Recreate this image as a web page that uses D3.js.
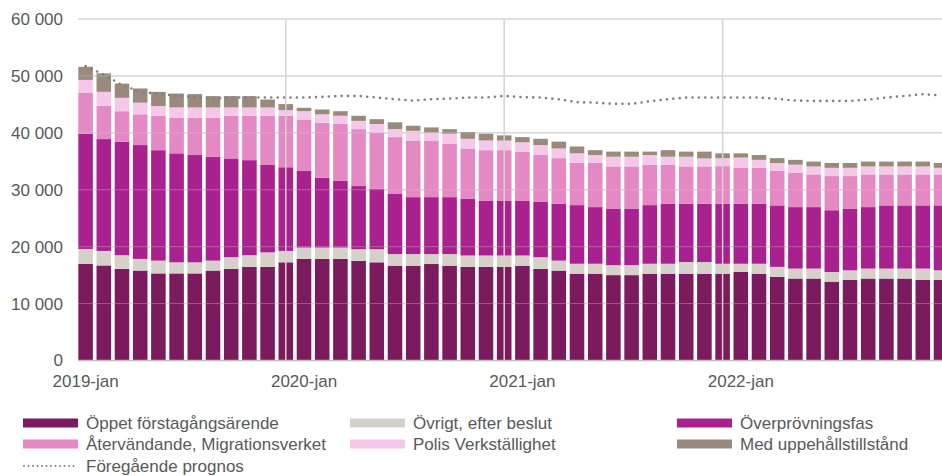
<!DOCTYPE html>
<html>
<head>
<meta charset="utf-8">
<script src="https://cdn.jsdelivr.net/npm/d3@7"></script>
<style>
  body { margin: 0; background: #fff; }
  text { font-family: Arial, "Liberation Sans", sans-serif; fill: #595959; }
</style>
</head>
<body>
<div id="chart"></div>
<script>
// monthly values, 2019-jan .. 2022-dec
const years = [2019, 2020, 2021, 2022];
const monthNames = ["jan","feb","mar","apr","maj","jun","jul","aug","sep","okt","nov","dec"];
const months = [];
years.forEach(yr => monthNames.forEach(m => months.push(yr + "-" + m)));

const tickLabels = ["2019-jan", "2020-jan", "2021-jan", "2022-jan"];
const yTicks = [0, 10000, 20000, 30000, 40000, 50000, 60000];

const oppet = [17000,16700,16100,15800,15300,15300,15300,15800,16100,16450,16450,17250,
  17850,17850,17850,17500,17250,16650,16650,16950,16650,16450,16450,16450,
  16650,16100,15800,15250,15250,15000,15000,15250,15250,15250,15250,15250,
  15550,15250,14700,14400,14400,13850,14150,14400,14400,14400,14150,14150];
const ovrigt = [2600,2550,2400,2050,2250,1950,1950,1750,2050,2050,2550,2000,
  2000,2000,2000,2050,2300,2050,2050,1750,2050,2000,2000,2000,
  1800,2050,1750,1750,1750,1750,1750,1750,1750,2050,2050,1750,
  1450,1750,1750,1750,1750,1700,1700,1750,1750,1750,2000,1700];
const overprovning = [20200,19650,19950,20000,19400,19150,18850,18250,17350,16700,15350,14700,
  13450,12250,11700,11100,10600,10550,10000,10000,10000,10000,9650,9650,
  9650,9700,10000,10300,9950,9950,9950,10300,10550,10250,10250,10550,
  10550,10550,10800,10800,10800,10850,10850,10800,11100,11100,11100,11400];
const atervandande = [7200,5850,5350,5400,6050,6250,6550,6850,7500,7800,8650,9050,
  9050,9650,10000,10000,9900,10000,9950,9950,9400,8800,8850,8850,
  8600,8250,8000,7450,7800,7400,7400,7100,6850,6550,6550,6600,
  6350,6300,6050,6050,5750,6000,5700,5750,5450,5450,5450,5450];
const polis = [2300,2450,2350,2050,1700,1800,1800,1800,1450,1450,1450,1000,
  1450,1500,1450,1450,1500,1400,1700,1400,1750,1700,1700,1700,
  1650,1750,1700,1650,1350,1700,1700,1700,1400,1700,1400,1400,
  1750,1400,1400,1400,1400,1450,1450,1400,1400,1400,1400,1150];
const uppehall = [2300,3250,2500,2500,2500,2450,2350,2000,2000,2000,1400,1050,
  600,850,800,900,850,1200,900,900,800,1200,1200,900,
  900,1100,1200,1200,850,900,900,600,1150,900,1200,850,
  750,850,850,850,850,850,850,850,850,850,850,850];
const foregaende = [51750,50200,48400,47200,46850,46500,46250,46000,46200,46200,46200,46200,
  46200,46320,46490,46490,46200,45900,45670,45900,46020,46200,46200,46490,
  46260,46200,45900,45370,45320,45090,45090,45550,45900,46200,46200,46200,
  46200,46200,45960,45670,45610,45610,45610,45850,46200,46490,46780,46600];

const seriesNames = ["Öppet förstagångsärende", "Övrigt, efter beslut", "Överprövningsfas",
  "Återvändande, Migrationsverket", "Polis Verkställighet", "Med uppehållstillstånd"];
const seriesData = [oppet, ovrigt, overprovning, atervandande, polis, uppehall];
const colors = ["#7b1a5c", "#d6d0ca", "#a8218e", "#e589c4", "#f5c8ea", "#9a8a7c"];
const lineName = "Föregående prognos";

const width = 942, height = 476;
const margin = {top: 19, right: 0, bottom: 115, left: 78};

const svg = d3.select("#chart").append("svg")
  .attr("width", width).attr("height", height)
  .attr("viewBox", [0, 0, width, height]);

// rows for the stack
const table = months.map((m, i) => {
  const row = {month: m};
  seriesNames.forEach((s, k) => row[s] = seriesData[k][i]);
  return row;
});
const stacked = d3.stack().keys(seriesNames)(table);

const x = d3.scaleBand().domain(months)
  .range([76.5, 76.5 + 18.2 * months.length])
  .paddingInner(0.2).paddingOuter(0.1);
const y = d3.scaleLinear().domain([0, 60000]).range([height - margin.bottom - 0.5, margin.top]);

// horizontal grid under the bars
const grid = svg.append("g");
grid.selectAll("line").data(yTicks.slice(1)).enter().append("line")
  .attr("x1", margin.left).attr("x2", width)
  .attr("y1", d => y(d)).attr("y2", d => y(d))
  .attr("stroke", "#d9d9d9").attr("stroke-width", 1.5);

// bars
svg.append("g").selectAll("g").data(stacked).enter().append("g")
  .attr("fill", (d, k) => colors[k])
  .selectAll("rect").data(d => d).enter().append("rect")
    .attr("x", d => x(d.data.month))
    .attr("width", x.bandwidth())
    .attr("y", d => y(d[1]))
    .attr("height", d => y(d[0]) - y(d[1]));

// faint grid on top of the bars
svg.append("g").selectAll("line").data(yTicks.slice(1)).enter().append("line")
  .attr("x1", margin.left).attr("x2", width)
  .attr("y1", d => y(d)).attr("y2", d => y(d))
  .attr("stroke", "#d9d9d9").attr("stroke-width", 1).attr("opacity", 0.35);

// vertical year lines (on the december bars)
const decMonths = ["2019-dec", "2020-dec", "2021-dec"];
svg.append("g").selectAll("line").data(decMonths).enter().append("line")
  .attr("x1", d => x(d) + x.bandwidth() / 2).attr("x2", d => x(d) + x.bandwidth() / 2)
  .attr("y1", y(60000)).attr("y2", y(0))
  .attr("stroke", "#d8d3cf").attr("stroke-width", 1.5);

// baseline
svg.append("line")
  .attr("x1", margin.left).attr("x2", width)
  .attr("y1", y(0)).attr("y2", y(0))
  .attr("stroke", "#bfbfbf").attr("stroke-width", 1.5);

// previous forecast, dotted
const line = d3.line()
  .x((d, i) => x(months[i]) + x.bandwidth() / 2)
  .y(d => y(d));
svg.append("path").datum(foregaende)
  .attr("d", line)
  .attr("fill", "none")
  .attr("stroke", "#808080")
  .attr("stroke-width", 2.6)
  .attr("stroke-linecap", "round")
  .attr("stroke-dasharray", "0,6.4");

// axes
const fmt = d => d3.format(",")(d).replace(/,/g, " ");
svg.append("g")
  .attr("transform", `translate(${margin.left},0)`)
  .call(d3.axisLeft(y).tickValues(yTicks).tickFormat(fmt).tickSize(0).tickPadding(15))
  .call(g => g.select(".domain").remove())
  .selectAll("text").attr("font-size", "17px").attr("fill", "#595959")
  .style("font-family", "Arial, 'Liberation Sans', sans-serif");

svg.append("g")
  .attr("transform", `translate(0,${y(0)})`)
  .call(d3.axisBottom(x).tickValues(tickLabels).tickSize(0).tickPadding(14))
  .call(g => g.select(".domain").remove())
  .selectAll("text").attr("font-size", "17px").attr("fill", "#595959")
  .style("font-family", "Arial, 'Liberation Sans', sans-serif");

// legend
const colX = [23, 350, 677];
const rowY = [423, 444, 466];
const legend = svg.append("g");
seriesNames.forEach((name, k) => {
  const cx = colX[k % 3], cy = rowY[Math.floor(k / 3)];
  legend.append("rect").attr("x", cx).attr("y", cy - 4.5)
    .attr("width", 55).attr("height", 9).attr("fill", colors[k]);
  legend.append("text").attr("x", cx + 63).attr("y", cy)
    .attr("dy", "0.35em").attr("font-size", "17px").text(name);
});
legend.append("line")
  .attr("x1", colX[0] + 1).attr("x2", colX[0] + 55)
  .attr("y1", rowY[2]).attr("y2", rowY[2])
  .attr("stroke", "#808080").attr("stroke-width", 2)
  .attr("stroke-linecap", "round").attr("stroke-dasharray", "0,4.5");
legend.append("text").attr("x", colX[0] + 63).attr("y", rowY[2])
  .attr("dy", "0.35em").attr("font-size", "17px").text(lineName);
</script>
</body>
</html>
